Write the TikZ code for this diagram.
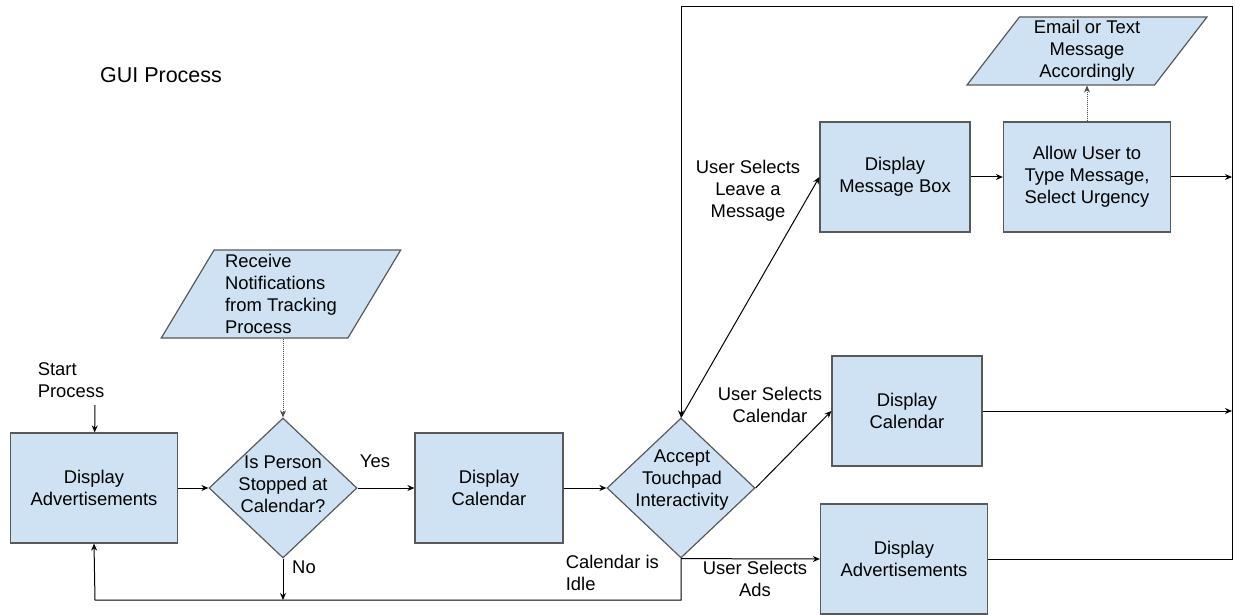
\documentclass[tikz,border=0pt]{standalone}
\usepackage{fontspec}
\setmainfont{Liberation Sans}
\usepackage{tikz}
\usetikzlibrary{shapes.geometric,arrows.meta}
\definecolor{boxfill}{HTML}{CFE2F3}
\definecolor{boxedge}{HTML}{595959}
\tikzset{%
	process/.style={
		rectangle,
		draw=boxedge,
		fill=boxfill,
		line width=1.2pt,
		minimum height=110pt,
		align=center
	},
	decision/.style={
		diamond,
		draw=boxedge,
		fill=boxfill,
		line width=1.2pt,
		inner sep=0pt,
		minimum width=148pt,
		minimum height=140pt
	},
	io/.style={
		trapezium,
		trapezium stretches=true,
		draw=boxedge,
		fill=boxfill,
		line width=1.2pt,
		inner sep=0pt,
		minimum width=240pt
	},
	txt/.style={ align=center },
	txt-left/.style={ anchor=west, align=left },
}

\begin{document}
\begin{tikzpicture}[x=1pt, y=-1pt, >={Stealth[length=7pt,width=6pt]}, line width=1pt,
	every node/.style={font=\fontsize{18.4}{22}\selectfont}]
\useasboundingbox (0,0) rectangle (1235,615);

% title
\node (title) at (161,75) {\fontsize{21.5}{26}\selectfont GUI Process};

% boxes
\foreach \n/\x/\y/\w/\t in {%
	ads1/94/488/167/{Display\\Advertisements},
	cal1/489/488/148/{Display\\Calendar},
	msg/895/177/150/{Display\\Message Box},
	type/1087/177/167/{Allow User to\\Type Message,\\Select Urgency},
	cal2/907/411/150/{Display\\Calendar},
	ads2/904/559/167/{Display\\Advertisements}}
	\node[process, minimum width=\w pt] (\n) at (\x,\y) {\t};

% decisions
\node[decision] (dec1) at (283,488) {};
\node[txt] (dec1-txt) at (283,484) {Is Person\\Stopped at\\Calendar?};
\node[decision] (dec2) at (681,488) {};
\node[txt] (dec2-txt) at (682,480) {Accept\\Touchpad\\Interactivity};

% input / output
\node[io, align=left, minimum height=88pt,
	trapezium left angle=61, trapezium right angle=119] (recv) at (281,294)
	{Receive\\Notifications\\from Tracking\\Process};
\node[io, align=center, minimum height=68pt,
	trapezium left angle=56, trapezium right angle=124] (email) at (1087,51)
	{Email or Text\\Message\\Accordingly};

% labels
\node[txt-left] (startlbl) at (34,380) {Start\\Process};
\node (yes) at (375,461) {Yes};
\node (no) at (304,567) {No};
\node[txt-left] (idle) at (562,573) {Calendar is\\Idle};
\node[txt] (selads) at (755,579) {User Selects\\Ads};
\node[txt] (selcal) at (770,405) {User Selects\\Calendar};
\node[txt] (selmsg) at (748,191) {User Selects\\Leave a\\Message};

% helper points
\coordinate (start) at (95,405);
\coordinate (nojoin) at (283,600);
\coordinate (idleR) at (681,600);
\coordinate (idleL) at (95,600);
\coordinate (frameNE) at (1232,7);
\coordinate (frameNW) at (681,7);

% main flow
\draw[->] (start) -- (ads1);
\draw[->] (ads1) -- (dec1);
\draw[->] (dec1) -- (cal1);
\draw[->] (cal1) -- (dec2);
\draw[->, densely dotted, draw=black!70] (recv.south -| dec1) -- (dec1);
\draw[->] (dec1.south) -- (nojoin);
\draw[->] (dec2.south) -- (idleR) -- (idleL) -- (ads1.south);

% user choices
\draw[->] (dec2.south) -- (ads2.west);
\draw[->] (dec2.east) -- (cal2.west);
\draw[->] (dec2.north) -- (msg.west);
\draw[->] (msg) -- (type);
\draw[->, densely dotted, draw=black!70] (type) -- (email);

% back to touchpad
\draw[->] (ads2.east) -- (ads2.east -| frameNE) -- (frameNE) -- (frameNW) -- (dec2.north);
\draw[->] (type.east) -- (type.east -| frameNE);
\draw[->] (cal2.east) -- (cal2.east -| frameNE);

\end{tikzpicture}
\end{document}
